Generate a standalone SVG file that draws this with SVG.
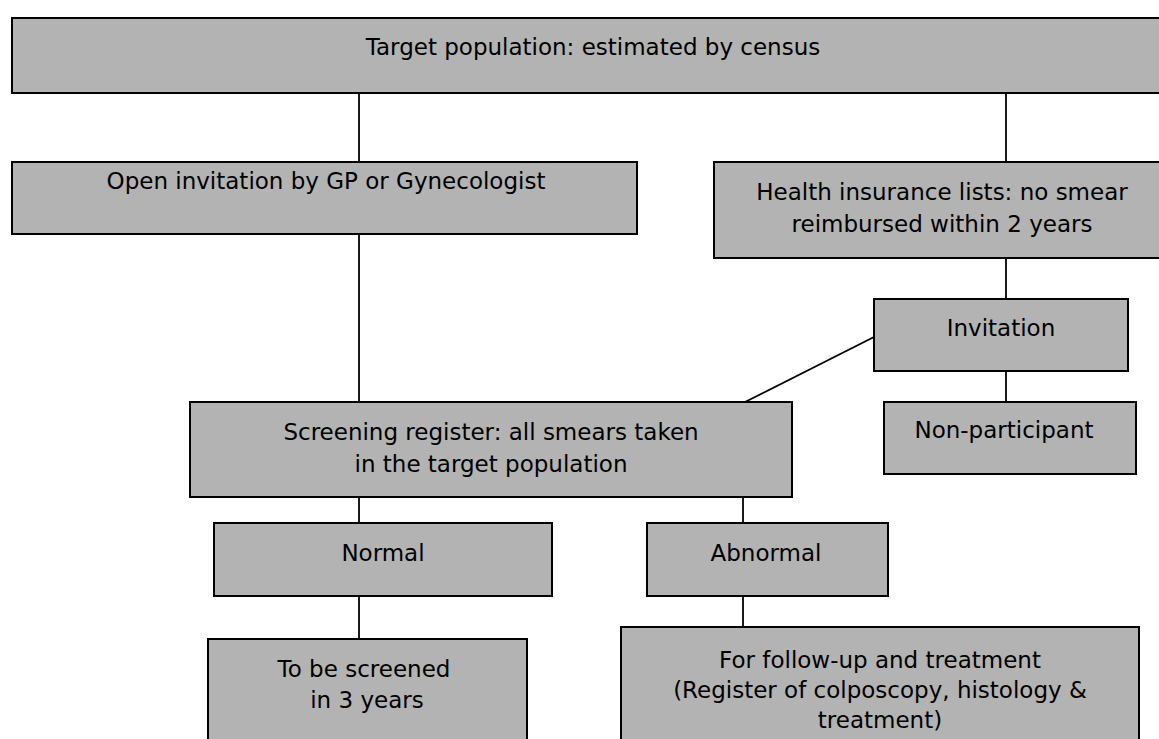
<svg xmlns="http://www.w3.org/2000/svg" width="1159" height="739" viewBox="0 0 1159 739">
<style>
.box{fill:#b3b3b3;stroke:#000;stroke-width:2}
.t{font-family:"DejaVu Sans",Verdana,sans-serif;font-size:23px;fill:#000;text-anchor:middle}
.c{stroke:#000;stroke-width:1.8;fill:none}
</style>
<rect width="1159" height="739" fill="#fff"/>
<g id="connectors">
<line class="c" x1="359" y1="93" x2="359" y2="162"/>
<line class="c" x1="1006" y1="93" x2="1006" y2="162"/>
<line class="c" x1="359" y1="234" x2="359" y2="402"/>
<line class="c" x1="1006" y1="258" x2="1006" y2="299"/>
<line class="c" x1="874" y1="337" x2="745" y2="402"/>
<line class="c" x1="1006" y1="371" x2="1006" y2="402"/>
<line class="c" x1="359" y1="497" x2="359" y2="523"/>
<line class="c" x1="743" y1="497" x2="743" y2="523"/>
<line class="c" x1="359" y1="596" x2="359" y2="639"/>
<line class="c" x1="743" y1="596" x2="743" y2="627"/>
</g>
<g id="target">
<rect class="box" x="12" y="18" width="1165" height="75"/>
<text class="t" x="593" y="55">Target population: estimated by census</text>
</g>
<g id="open">
<rect class="box" x="12" y="162" width="625" height="72"/>
<text class="t" x="326" y="189">Open invitation by GP or Gynecologist</text>
</g>
<g id="health">
<rect class="box" x="714" y="162" width="460" height="96"/>
<text class="t" x="942" y="200">Health insurance lists: no smear</text>
<text class="t" x="942" y="232">reimbursed within 2 years</text>
</g>
<g id="invitation">
<rect class="box" x="874" y="299" width="254" height="72"/>
<text class="t" x="1001" y="336">Invitation</text>
</g>
<g id="nonparticipant">
<rect class="box" x="884" y="402" width="252" height="72"/>
<text class="t" x="1004" y="438">Non-participant</text>
</g>
<g id="screening">
<rect class="box" x="190" y="402" width="602" height="95"/>
<text class="t" x="491" y="440">Screening register: all smears taken</text>
<text class="t" x="491" y="472">in the target population</text>
</g>
<g id="normal">
<rect class="box" x="214" y="523" width="338" height="73"/>
<text class="t" x="383" y="561">Normal</text>
</g>
<g id="abnormal">
<rect class="box" x="647" y="523" width="241" height="73"/>
<text class="t" x="766" y="561">Abnormal</text>
</g>
<g id="rescreen">
<rect class="box" x="208" y="639" width="319" height="110"/>
<text class="t" x="364" y="677">To be screened</text>
<text class="t" x="367" y="708">in 3 years</text>
</g>
<g id="followup">
<rect class="box" x="621" y="627" width="518" height="120"/>
<text class="t" x="880" y="668">For follow-up and treatment</text>
<text class="t" x="880" y="698">(Register of colposcopy, histology &amp;</text>
<text class="t" x="880" y="728">treatment)</text>
</g>
</svg>
